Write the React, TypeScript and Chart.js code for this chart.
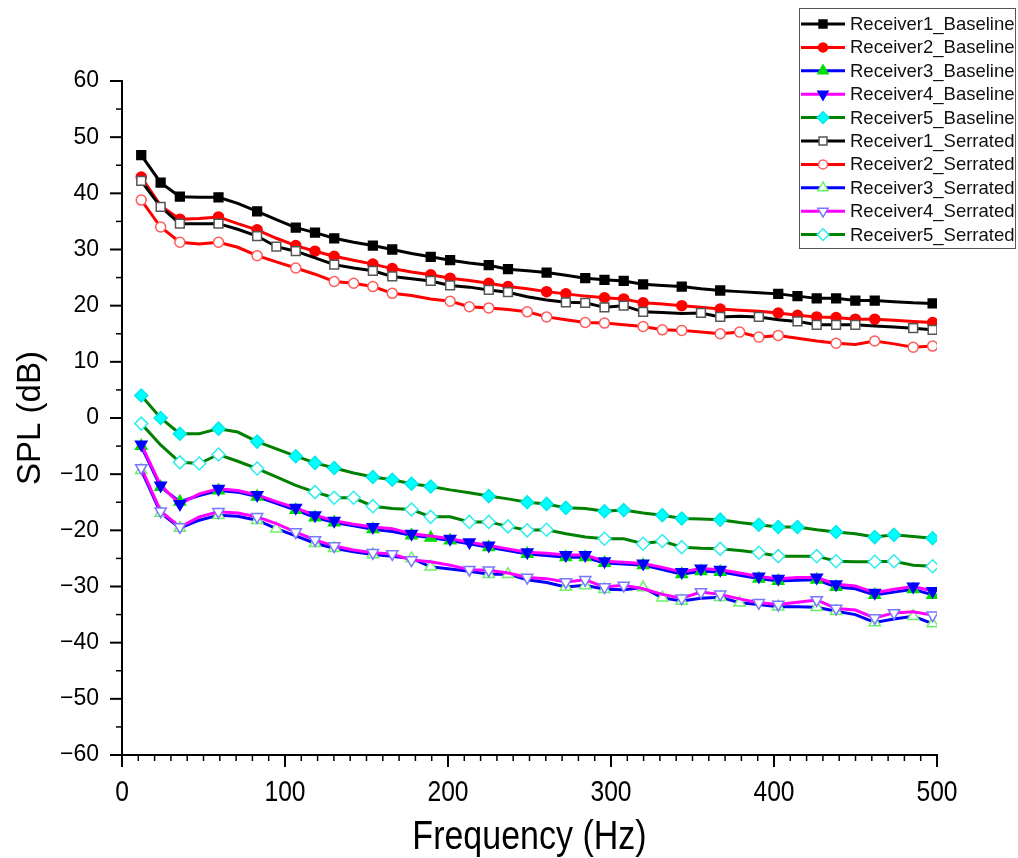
import React, { useEffect, useRef } from 'react';
import { Chart, registerables } from 'chart.js';
import { drawPoint } from 'chart.js/helpers';

Chart.register(...registerables);

// Frequency axis (Hz)
const FREQ = [11.8, 23.7, 35.5, 47.4, 59.2, 71.0, 82.9, 94.7, 106.6, 118.4, 130.2, 142.1, 153.9, 165.8, 177.6, 189.4, 201.3, 213.1, 225.0, 236.8, 248.6, 260.5, 272.3, 284.2, 296.0, 307.8, 319.7, 331.5, 343.4, 355.2, 367.0, 378.9, 390.7, 402.6, 414.4, 426.2, 438.1, 449.9, 461.8, 473.6, 485.4, 497.3];

// SPL values (dB)
const R1_BASELINE = [46.8, 41.9, 39.4, 39.3, 39.3, 38.2, 36.8, 35.3, 33.9, 33.0, 32.0, 31.3, 30.7, 30.0, 29.3, 28.7, 28.1, 27.6, 27.2, 26.5, 26.2, 25.9, 25.4, 24.9, 24.6, 24.4, 23.8, 23.6, 23.4, 23.0, 22.7, 22.5, 22.3, 22.1, 21.7, 21.3, 21.3, 20.9, 20.9, 20.7, 20.5, 20.4];
const R2_BASELINE = [42.9, 37.8, 35.4, 35.5, 35.8, 34.6, 33.5, 32.0, 30.7, 29.7, 28.8, 28.1, 27.4, 26.6, 26.0, 25.5, 24.9, 24.5, 24.0, 23.4, 23.0, 22.5, 22.1, 21.7, 21.4, 21.2, 20.5, 20.3, 20.0, 19.7, 19.4, 19.2, 19.0, 18.7, 18.3, 18.0, 17.9, 17.6, 17.6, 17.4, 17.2, 17.0];
const R3_BASELINE = [-5.0, -12.3, -14.9, -13.8, -12.9, -13.2, -14.0, -15.2, -16.4, -17.7, -18.6, -19.2, -19.8, -20.2, -20.9, -21.3, -21.8, -22.4, -23.0, -23.6, -24.2, -24.5, -24.8, -24.8, -25.8, -26.0, -26.2, -27.0, -27.8, -27.3, -27.4, -28.0, -28.6, -29.0, -28.9, -28.8, -30.1, -30.4, -31.5, -31.0, -30.5, -31.5];
const R4_BASELINE = [-4.7, -12.0, -15.3, -13.5, -12.6, -12.9, -13.7, -14.9, -16.0, -17.3, -18.3, -18.9, -19.4, -19.7, -20.6, -21.0, -21.5, -22.1, -22.7, -23.3, -23.9, -24.1, -24.4, -24.4, -25.5, -25.7, -25.9, -26.6, -27.4, -26.8, -27.0, -27.6, -28.2, -28.6, -28.4, -28.4, -29.6, -29.9, -31.1, -30.5, -30.0, -30.8];
const R5_BASELINE = [4.0, 0.0, -2.8, -2.8, -1.9, -2.5, -4.2, -5.5, -6.8, -8.0, -8.9, -9.8, -10.5, -11.0, -11.7, -12.2, -12.8, -13.3, -13.9, -14.4, -15.0, -15.3, -16.0, -16.1, -16.6, -16.4, -16.9, -17.3, -17.9, -18.0, -18.1, -18.6, -19.0, -19.4, -19.4, -19.9, -20.3, -20.6, -21.2, -20.8, -21.1, -21.4];
const R1_SERRATED = [42.2, 37.6, 34.6, 34.6, 34.6, 33.6, 32.4, 30.5, 29.7, 28.5, 27.3, 26.7, 26.2, 25.2, 24.8, 24.4, 23.6, 23.3, 22.8, 22.4, 21.6, 21.0, 20.6, 20.5, 19.7, 20.0, 18.9, 18.8, 18.6, 18.7, 18.0, 18.1, 18.0, 17.5, 17.2, 16.6, 16.6, 16.6, 16.4, 16.2, 16.0, 15.7];
const R2_SERRATED = [38.8, 34.0, 31.3, 31.0, 31.3, 30.4, 28.9, 27.8, 26.7, 25.6, 24.3, 24.0, 23.4, 22.2, 21.8, 21.2, 20.8, 19.8, 19.6, 19.3, 18.9, 18.0, 17.5, 17.0, 16.9, 16.6, 16.3, 15.7, 15.6, 15.3, 15.0, 15.3, 14.4, 14.7, 14.2, 13.7, 13.3, 13.1, 13.7, 13.2, 12.6, 12.8];
const R3_SERRATED = [-9.3, -16.9, -19.6, -18.2, -17.3, -17.5, -18.2, -19.7, -21.0, -22.3, -23.2, -23.8, -24.3, -24.6, -25.0, -26.5, -26.9, -27.3, -27.8, -27.8, -28.8, -29.3, -30.1, -29.8, -30.5, -30.6, -30.2, -32.0, -32.6, -32.1, -31.9, -32.9, -33.2, -33.6, -33.6, -33.7, -34.4, -35.0, -36.4, -35.8, -35.3, -36.6];
const R4_SERRATED = [-8.9, -16.6, -19.4, -17.6, -16.7, -16.9, -17.6, -18.8, -20.3, -21.7, -22.8, -23.5, -24.0, -24.2, -25.3, -25.6, -26.2, -27.0, -27.1, -27.6, -28.4, -28.6, -29.2, -28.8, -30.1, -29.8, -30.4, -31.4, -32.1, -31.0, -31.4, -32.2, -32.9, -33.2, -32.8, -32.4, -33.9, -34.2, -35.6, -34.7, -34.5, -35.1];
const R5_SERRATED = [-1.0, -4.8, -7.9, -8.1, -6.5, -7.7, -9.0, -10.5, -12.0, -13.2, -14.2, -14.2, -15.7, -16.1, -16.3, -17.6, -17.6, -18.5, -18.5, -19.3, -20.0, -19.9, -20.6, -21.2, -21.5, -21.5, -22.4, -21.9, -23.0, -23.2, -23.3, -23.6, -24.0, -24.6, -24.6, -24.6, -25.5, -25.6, -25.6, -25.5, -26.2, -26.4];

// Point numbers (1-based) that carry a visible marker
const R1_BASELINE_MARKERS = [1, 2, 3, 5, 7, 9, 10, 11, 13, 14, 16, 17, 19, 20, 22, 24, 25, 26, 27, 29, 31, 34, 35, 36, 37, 38, 39, 42];
const R2_BASELINE_MARKERS = [1, 3, 5, 7, 9, 10, 11, 13, 14, 16, 17, 19, 20, 22, 23, 25, 26, 27, 29, 31, 34, 35, 36, 37, 38, 39, 42];
const R3_BASELINE_MARKERS = [1, 2, 3, 5, 7, 9, 10, 11, 13, 15, 16, 17, 19, 21, 23, 24, 25, 27, 29, 30, 31, 33, 34, 36, 37, 39, 41, 42];
const R4_BASELINE_MARKERS = [1, 2, 3, 5, 7, 9, 10, 11, 13, 15, 17, 18, 19, 21, 23, 24, 25, 27, 29, 30, 31, 33, 34, 36, 37, 39, 41, 42];
const R5_BASELINE_MARKERS = [1, 2, 3, 5, 7, 9, 10, 11, 13, 14, 15, 16, 19, 21, 22, 23, 25, 26, 28, 29, 31, 33, 34, 35, 37, 39, 40, 42];
const R1_SERRATED_MARKERS = [1, 2, 3, 5, 7, 8, 9, 11, 13, 14, 16, 17, 19, 20, 23, 24, 25, 26, 27, 30, 31, 33, 35, 36, 37, 38, 41, 42];
const R2_SERRATED_MARKERS = [1, 2, 3, 5, 7, 9, 11, 12, 13, 14, 17, 18, 19, 21, 22, 24, 25, 27, 28, 29, 31, 32, 33, 34, 37, 39, 41, 42];
const R3_SERRATED_MARKERS = [1, 2, 3, 5, 7, 8, 10, 11, 13, 15, 16, 19, 20, 23, 24, 25, 27, 28, 29, 31, 32, 34, 36, 37, 39, 41, 42];
const R4_SERRATED_MARKERS = [1, 2, 3, 5, 7, 9, 10, 11, 13, 14, 15, 18, 19, 21, 23, 24, 25, 26, 29, 30, 31, 33, 34, 36, 37, 39, 40, 42];
const R5_SERRATED_MARKERS = [1, 3, 4, 5, 7, 10, 11, 12, 13, 15, 16, 18, 19, 20, 21, 22, 25, 27, 28, 29, 31, 33, 34, 36, 37, 39, 40, 42];

const SERIES_NAMES = ['Receiver1_Baseline', 'Receiver2_Baseline', 'Receiver3_Baseline', 'Receiver4_Baseline', 'Receiver5_Baseline', 'Receiver1_Serrated', 'Receiver2_Serrated', 'Receiver3_Serrated', 'Receiver4_Serrated', 'Receiver5_Serrated'];
const SERIES_VALUES = [R1_BASELINE, R2_BASELINE, R3_BASELINE, R4_BASELINE, R5_BASELINE, R1_SERRATED, R2_SERRATED, R3_SERRATED, R4_SERRATED, R5_SERRATED];
const SERIES_MARKERS = [R1_BASELINE_MARKERS, R2_BASELINE_MARKERS, R3_BASELINE_MARKERS, R4_BASELINE_MARKERS, R5_BASELINE_MARKERS, R1_SERRATED_MARKERS, R2_SERRATED_MARKERS, R3_SERRATED_MARKERS, R4_SERRATED_MARKERS, R5_SERRATED_MARKERS];

const X_TITLE = 'Frequency (Hz)';
const Y_TITLE = 'SPL (dB)';
const X_MIN = 0, X_MAX = 500, X_STEP = 100, X_MINOR = 10;
const Y_MIN = -60, Y_MAX = 60, Y_STEP = 10, Y_MINOR = 5;

// styles
const STYLES = [
  { line: '#000000', fill: '#000000', edge: '#000000', shape: 'rect', rot: 0, r: 6.2 },
  { line: '#ff0000', fill: '#ff0000', edge: '#ff0000', shape: 'circle', rot: 0, r: 5 },
  { line: '#0000ff', fill: '#00dd00', edge: '#00dd00', shape: 'triangle', rot: 0, r: 6.5 },
  { line: '#ff00ff', fill: '#0000ff', edge: '#0000ff', shape: 'triangle', rot: 180, r: 6.5 },
  { line: '#008000', fill: '#00ffff', edge: '#00e8e8', shape: 'rectRot', rot: 0, r: 6.5 },
  { line: '#000000', fill: '#ffffff', edge: '#555555', shape: 'rect', rot: 0, r: 6.2 },
  { line: '#ff0000', fill: '#ffffff', edge: '#ff5a5a', shape: 'circle', rot: 0, r: 5 },
  { line: '#0000ff', fill: '#ffffff', edge: '#6cf06c', shape: 'triangle', rot: 0, r: 6.5 },
  { line: '#ff00ff', fill: '#ffffff', edge: '#7878ff', shape: 'triangle', rot: 180, r: 6.5 },
  { line: '#008000', fill: '#ffffff', edge: '#30ecec', shape: 'rectRot', rot: 0, r: 6.5 },
];

const FONT = "'Liberation Sans', Arial, sans-serif";

const axisDecorPlugin = {
  id: 'axisDecor',
  afterDraw(chart: any) {
    const { ctx, chartArea, scales } = chart;
    const x = scales.x, y = scales.y;
    ctx.save();
    ctx.strokeStyle = '#000';
    for (let v = X_MIN; v <= X_MAX; v += X_MINOR) {
      const major = v % X_STEP === 0;
      const px = x.getPixelForValue(v);
      ctx.lineWidth = major ? 2 : 1.5;
      ctx.beginPath();
      ctx.moveTo(px, chartArea.bottom);
      ctx.lineTo(px, chartArea.bottom + (major ? 12 : 6));
      ctx.stroke();
    }
    for (let v = Y_MIN; v <= Y_MAX; v += Y_MINOR) {
      const major = v % Y_STEP === 0;
      const py = y.getPixelForValue(v);
      ctx.lineWidth = major ? 2 : 1.5;
      ctx.beginPath();
      ctx.moveTo(chartArea.left, py);
      ctx.lineTo(chartArea.left - (major ? 12 : 6), py);
      ctx.stroke();
    }
    // x tick labels and title in a condensed face
    ctx.fillStyle = '#000';
    ctx.textAlign = 'center';
    ctx.textBaseline = 'middle';
    x.ticks.forEach((t: any) => {
      const px = x.getPixelForValue(t.value);
      ctx.save();
      ctx.translate(px, chartArea.bottom + 38);
      ctx.scale(0.82, 1);
      ctx.font = `30px ${FONT}`;
      ctx.fillText(String(t.value), 0, 0);
      ctx.restore();
    });
    ctx.save();
    ctx.translate((chartArea.left + chartArea.right) / 2, chartArea.bottom + 83);
    ctx.scale(0.85, 1);
    ctx.font = `40px ${FONT}`;
    ctx.fillText(X_TITLE, 0, 0);
    ctx.restore();
    ctx.restore();
  },
};

const legendPlugin = {
  id: 'boxLegend',
  afterDraw(chart: any) {
    const { ctx } = chart;
    const bx = 799.5, by = 8.5, bw = 216, bh = 240;
    ctx.save();
    ctx.fillStyle = '#ffffff';
    ctx.fillRect(bx, by, bw, bh);
    ctx.strokeStyle = '#555555';
    ctx.lineWidth = 1;
    ctx.strokeRect(bx, by, bw, bh);
    chart.data.datasets.forEach((ds: any, i: number) => {
      const cy = 24 + i * 23.4;
      ctx.strokeStyle = ds.borderColor;
      ctx.lineWidth = 3;
      ctx.beginPath();
      ctx.moveTo(801, cy);
      ctx.lineTo(845, cy);
      ctx.stroke();
      ctx.fillStyle = ds.pointBackgroundColor;
      ctx.strokeStyle = ds.pointBorderColor;
      ctx.lineWidth = ds.pointBorderWidth;
      drawPoint(ctx, { pointStyle: ds.pointStyle, rotation: ds.pointRotation, radius: ds.legendRadius * 0.9, borderWidth: ds.pointBorderWidth } as any, 823, cy);
      ctx.fillStyle = '#111111';
      ctx.font = `18.5px ${FONT}`;
      ctx.textAlign = 'left';
      ctx.textBaseline = 'middle';
      ctx.fillText(ds.label, 850, cy + 1);
    });
    ctx.restore();
  },
};

export default function App() {
  const ref = useRef<HTMLCanvasElement>(null);

  useEffect(() => {
    if (!ref.current) return;
    const datasets = SERIES_NAMES.map((name, si) => {
      const st = STYLES[si];
      const vals = SERIES_VALUES[si];
      const marks = SERIES_MARKERS[si];
      return {
        label: name,
        data: FREQ.map((f, i) => ({ x: f, y: vals[i] })),
        borderColor: st.line,
        borderWidth: 3,
        pointBackgroundColor: st.fill,
        pointBorderColor: st.edge,
        pointBorderWidth: 1.5,
        pointStyle: st.shape,
        pointRotation: st.rot,
        pointRadius: FREQ.map((_, i) => (marks.includes(i + 1) ? st.r : 0)),
        legendRadius: st.r,
        tension: 0,
        fill: false,
        order: -si,
      };
    });

    const chart = new Chart(ref.current, {
      type: 'line',
      data: { datasets } as any,
      options: {
        animation: false,
        responsive: false,
        events: [],
        layout: { padding: { left: 0, top: 81, right: 81, bottom: 0 } },
        plugins: { legend: { display: false }, tooltip: { enabled: false } },
        scales: {
          x: {
            type: 'linear',
            min: X_MIN,
            max: X_MAX,
            afterFit: (s: any) => { s.height = 103; },
            ticks: { stepSize: X_STEP, display: false },
            grid: { display: true, drawOnChartArea: false, drawTicks: true, tickLength: 12, color: 'rgba(0,0,0,0)' },
            border: { display: true, color: '#000', width: 2 },
            title: { display: false },
          },
          y: {
            type: 'linear',
            min: Y_MIN,
            max: Y_MAX,
            afterFit: (s: any) => { s.width = 122; },
            ticks: { stepSize: Y_STEP, color: '#000', padding: 11, font: { family: FONT, size: 23 }, callback: (v: any) => (Number(v) < 0 ? '\u2212' + Math.abs(Number(v)) : String(v)) },
            grid: { display: true, drawOnChartArea: false, drawTicks: true, tickLength: 12, color: 'rgba(0,0,0,0)' },
            border: { display: true, color: '#000', width: 2 },
            title: { display: true, text: Y_TITLE, color: '#000', padding: { top: 11, bottom: 0 }, font: { family: FONT, size: 33, lineHeight: 1.2 } },
          },
        },
      } as any,
      plugins: [axisDecorPlugin, legendPlugin],
    });
    return () => chart.destroy();
  }, []);

  return (
    <div style={{ position: 'absolute', left: 0, top: 0, width: 1018, height: 858, background: '#fff' }}>
      <canvas ref={ref} width={1018} height={858} style={{ display: 'block' }} />
    </div>
  );
}
